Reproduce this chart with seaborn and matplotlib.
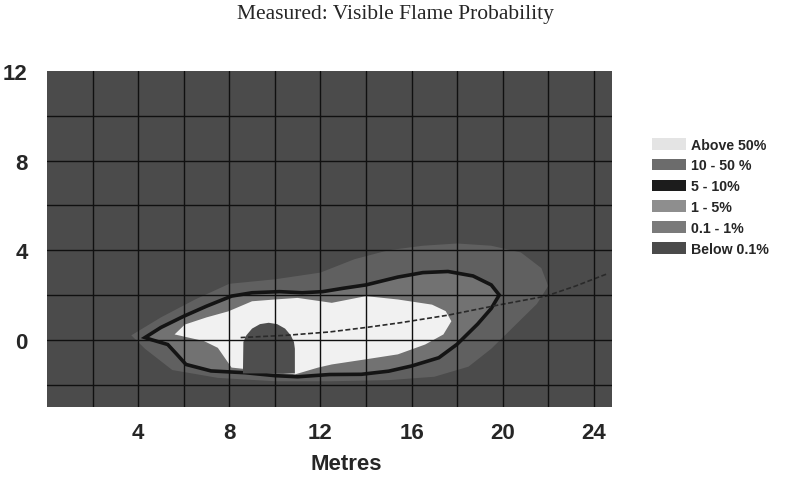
import numpy as np
import pandas as pd
import matplotlib
matplotlib.use("Agg")
import matplotlib.pyplot as plt
from matplotlib.patches import Patch
import seaborn as sns

# ---- data (metres) ----
halo_x = [3.7, 5.0, 6.5, 8.0, 10.0, 12.0, 13.5, 15.0, 16.5, 18.0, 19.5, 20.8, 21.7, 22.0, 21.5, 20.5, 19.5, 18.5, 17.0, 15.0, 12.5, 10.0, 7.5, 5.5, 4.3]
halo_y = [0.2, 1.0, 1.8, 2.5, 2.7, 3.0, 3.6, 4.0, 4.2, 4.3, 4.2, 3.9, 3.2, 2.4, 1.6, 0.6, -0.4, -1.2, -1.65, -1.8, -1.85, -1.85, -1.7, -1.35, -0.4]

outline_x = [4.3, 5.0, 6.0, 7.0, 8.1, 9.0, 10.2, 11.2, 12.1, 13.0, 14.0, 15.4, 16.5, 17.6, 18.7, 19.5, 19.85, 19.5, 18.9, 18.0, 17.2, 16.0, 15.0, 13.8, 12.4, 11.0, 10.0, 8.7, 7.2, 6.1, 5.7, 5.3, 4.6]
outline_y = [0.1, 0.55, 1.05, 1.5, 1.95, 2.1, 2.15, 2.1, 2.15, 2.3, 2.45, 2.8, 3.0, 3.05, 2.85, 2.45, 2.0, 1.4, 0.7, -0.2, -0.8, -1.17, -1.4, -1.54, -1.55, -1.65, -1.6, -1.47, -1.39, -1.1, -0.65, -0.21, 0.0]

white_x = [5.6, 6.05, 7.0, 7.96, 9.0, 10.0, 11.0, 12.5, 14.0, 15.4, 16.9, 17.5, 17.75, 17.4, 16.6, 15.4, 14.0, 12.5, 11.9, 10.9, 8.1, 7.8, 7.5, 6.9]
white_y = [0.24, 0.68, 1.0, 1.27, 1.72, 1.8, 1.87, 1.65, 1.95, 1.8, 1.57, 1.28, 0.83, 0.24, -0.21, -0.65, -0.87, -1.1, -1.24, -1.54, -1.24, -0.8, -0.36, -0.06]

obstacle_x = [8.6, 8.62, 8.75, 9.0, 9.35, 9.73, 10.1, 10.45, 10.7, 10.84, 10.88, 10.88]
obstacle_y = [-1.5, -0.1, 0.2, 0.5, 0.7, 0.76, 0.7, 0.5, 0.2, -0.1, -0.4, -1.5]

track_x = [8.5, 10.5, 12.4, 14.0, 15.5, 17.6, 19.8, 21.9, 23.2, 24.6]
track_y = [0.1, 0.2, 0.35, 0.55, 0.76, 1.1, 1.55, 1.95, 2.4, 2.95]

legend_labels = ["Above 50%", "10 - 50 %", "5 - 10%", "1 - 5%", "0.1 - 1%", "Below 0.1%"]
legend_colors = ["#e4e4e4", "#6c6c6c", "#1c1c1c", "#8e8e8e", "#7a7a7a", "#4a4a4a"]

x_ticks = [4, 8, 12, 16, 20, 24]
y_ticks = [0, 4, 8, 12]

# ---- style ----
sns.set_style("white")
plt.rcParams['font.family'] = ['Liberation Sans', 'DejaVu Sans']

fig = plt.figure(figsize=(7.86, 4.81), dpi=100)
ax = fig.add_axes([47/786, 1-408/481, (612-47)/786, (408-72)/481])
ax.set_xlim(0, 24.8)
ax.set_ylim(-3, 12)
ax.set_facecolor("#4b4b4b")

ax.fill(halo_x, halo_y, color="#606060", lw=0, zorder=1)
ax.fill(outline_x, outline_y, facecolor="#727272", edgecolor="#141414", lw=2.6, zorder=2)
ax.fill(white_x, white_y, color="#f1f1f1", lw=0, zorder=3)
ax.fill(obstacle_x, obstacle_y, color="#4e4e4e", lw=0, zorder=4)

track = pd.DataFrame({"x": track_x, "y": track_y})
sns.lineplot(data=track, x="x", y="y", ax=ax, color="#2a2a2a", lw=1.2,
             linestyle=(0, (3, 1.5)), sort=False, zorder=5)

# grid
for gx in range(2, 25, 2):
    ax.axvline(gx, color="#101010", lw=1.0, zorder=6)
for gy in range(-2, 12, 2):
    ax.axhline(gy, color="#101010", lw=1.0, zorder=6)

for s in ax.spines.values():
    s.set_visible(False)

ax.set_xticks(x_ticks)
ax.set_yticks(y_ticks)
ax.set_xticklabels([str(v) for v in x_ticks], fontsize=16, fontweight="bold")
ax.set_yticklabels([str(v) for v in y_ticks], fontsize=16, fontweight="bold")
ax.tick_params(axis="x", length=0, pad=11)
ax.tick_params(axis="y", length=0, pad=14)
ax.set_xlabel("")
ax.set_ylabel("")

fig.text(346/786, 1-465/481, "Metres", ha="center", va="center", fontsize=16, fontweight="bold")
fig.text(395/786, 1-14/481, "Measured: Visible Flame Probability", ha="center", va="center",
         fontsize=15.5, family=["Liberation Serif", "DejaVu Serif"])

handles = [Patch(facecolor=c, edgecolor="none") for c in legend_colors]
fig.legend(handles, legend_labels, loc="upper left", bbox_to_anchor=(646/786, 1-133/481),
           frameon=False, prop={"weight": "bold", "size": 10.2}, handlelength=2.4,
           handleheight=0.9, labelspacing=0.48, handletextpad=0.4, borderaxespad=0)

fig.savefig("out.png", dpi=100)
